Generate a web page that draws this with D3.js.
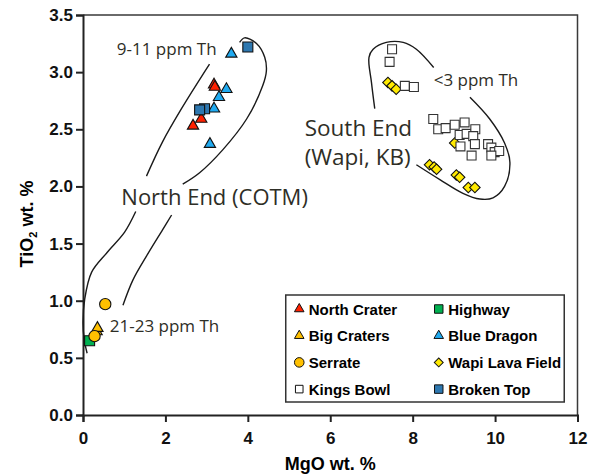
<!DOCTYPE html>
<html lang="en">
<head>
<meta charset="utf-8">
<title>TiO2 vs MgO</title>
<script src="https://d3js.org/d3.v7.min.js"></script>
<style>
  body { margin: 0; background: #fff; }
  svg { display: block; }
  .tick text { font-family: "Liberation Sans", Arial, sans-serif; font-weight: bold; font-size: 17px; fill: #111; }
  .note { font-family: "Open Sans", "Noto Sans", sans-serif; fill: #2e2e26; }
</style>
</head>
<body>
<div id="chart"></div>
<script>
// --- data (MgO wt.%, TiO2 wt.%) ---
var highway = [[0.16, 0.65]];
var bigCraters = [[0.33, 0.73], [0.35, 0.76]];
var serrate = [[0.54, 0.97], [0.28, 0.69]];
var wapi = [[7.40, 2.91], [7.50, 2.88], [7.60, 2.85], [9.02, 2.38],
            [8.41, 2.19], [8.52, 2.17], [8.58, 2.15], [9.06, 2.10], [9.14, 2.08], [9.35, 1.99], [9.51, 1.99]];
var kingsBowl = [[7.50, 3.20], [7.44, 3.09], [7.81, 2.88], [8.03, 2.87],
                 [8.50, 2.59], [8.62, 2.50], [8.80, 2.51], [9.02, 2.54], [9.26, 2.56], [9.14, 2.45],
                 [9.31, 2.46], [9.52, 2.50], [9.16, 2.35], [9.47, 2.44], [9.51, 2.37], [9.43, 2.27],
                 [9.83, 2.37], [9.91, 2.34], [9.99, 2.30], [10.10, 2.31], [9.91, 2.27]];
var northCrater = [[3.18, 2.89], [3.20, 2.87], [2.87, 2.59], [2.67, 2.53]];
var blueDragon = [[3.60, 3.16], [3.48, 2.85], [3.30, 2.78], [3.18, 2.68], [3.08, 2.37]];
var brokenTop = [[4.00, 3.22], [2.95, 2.68], [2.83, 2.67]];

var xTicks = [0, 2, 4, 6, 8, 10, 12];
var yTicks = [0, 0.5, 1, 1.5, 2, 2.5, 3, 3.5];

// series: name, values, shape, fill (draw order = list order)
var series = [
  { name: "Highway", values: highway, shape: "square", fill: "#00b050" },
  { name: "Big Craters", values: bigCraters, shape: "triangle", fill: "#ffc000" },
  { name: "Serrate", values: serrate, shape: "circle", fill: "#ffc000" },
  { name: "Wapi Lava Field", values: wapi, shape: "diamond", fill: "#ffea00" },
  { name: "Kings Bowl", values: kingsBowl, shape: "small", fill: "#ffffff" },
  { name: "North Crater", values: northCrater, shape: "triangle", fill: "#ff2000" },
  { name: "Blue Dragon", values: blueDragon, shape: "triangle", fill: "#20aaf0" },
  { name: "Broken Top", values: brokenTop, shape: "square", fill: "#2e78b0" }
];
var legendOrder = ["North Crater", "Highway", "Big Craters", "Blue Dragon",
                   "Serrate", "Wapi Lava Field", "Kings Bowl", "Broken Top"];

// field outlines, in data units
var northLeftA = [[3.07, 3.07], [2.39, 2.68], [1.93, 2.39], [1.54, 2.09]];
var northLeftB = [[1.28, 1.78], [1.01, 1.60], [0.58, 1.42], [0.21, 1.25], [0.04, 1.01], [0.0, 0.81], [0.03, 0.66], [0.10, 0.54]];
var northRightA = [[3.80, 3.26], [3.92, 3.30], [4.21, 3.25], [4.41, 3.13], [4.45, 3.01], [4.36, 2.88],
                   [3.97, 2.59], [3.39, 2.32], [2.83, 2.12], [2.42, 2.02]];
var northRightB = [[2.15, 1.75], [1.93, 1.62], [1.54, 1.39], [1.21, 1.18], [0.97, 0.96]];
var southA = [[7.08, 2.68], [7.00, 2.91], [6.94, 3.13], [7.04, 3.20], [7.36, 3.26], [7.77, 3.26], [8.09, 3.20], [8.51, 3.04]];
var southB = [[9.39, 2.78], [9.87, 2.59], [10.23, 2.38], [10.36, 2.21], [10.23, 2.00], [9.95, 1.90],
              [9.63, 1.89], [9.22, 1.94], [8.66, 2.06], [8.09, 2.19]];

var notes = [
  { text: "9-11 ppm Th", x: 0.82, y: 3.15, size: 17 },
  { text: "<3 ppm Th", x: 8.51, y: 2.88, size: 17 },
  { text: "South End", x: 5.38, y: 2.44, size: 22.5 },
  { text: "(Wapi, KB)", x: 5.38, y: 2.19, size: 22.5 },
  { text: "North End (COTM)", x: 0.93, y: 1.84, size: 22 },
  { text: "21-23 ppm Th", x: 0.65, y: 0.73, size: 17 }
];

var w = 595, h = 475;
var margin = { top: 15, right: 17.5, bottom: 60, left: 83 };
var width = w - margin.left - margin.right, height = h - margin.top - margin.bottom;

var svg = d3.select("#chart").append("svg")
  .attr("width", w).attr("height", h)
  .append("g")
  .attr("transform", `translate(${margin.left},${margin.top})`);

var x = d3.scaleLinear().domain([0, 12]).range([0, width]);
var y = d3.scaleLinear().domain([0, 3.5]).range([height, 0]);

// frame (top and right)
svg.append("path")
  .attr("d", `M0,0H${width}V${height}`)
  .attr("fill", "none").attr("stroke", "#3a3a3a").attr("stroke-width", 1.5);

var gx = svg.append("g")
  .attr("transform", `translate(0,${height})`)
  .call(d3.axisBottom(x).tickValues(xTicks).tickSize(7).tickPadding(10).tickFormat(d3.format("d")));
var gy = svg.append("g")
  .call(d3.axisLeft(y).tickValues(yTicks).tickSize(7).tickPadding(3).tickFormat(d3.format(".1f")));
[gx, gy].forEach(function (g) {
  g.select(".domain").attr("stroke", "#222").attr("stroke-width", 2);
  g.selectAll(".tick line").attr("stroke", "#222").attr("stroke-width", 2);
});

// axis titles
svg.append("text")
  .attr("x", width / 2).attr("y", height + 55)
  .attr("text-anchor", "middle")
  .style("font-family", "Liberation Sans, Arial, sans-serif").style("font-weight", "bold").style("font-size", "18px")
  .text("MgO wt. %");
var yt = svg.append("text")
  .attr("transform", `translate(${-50},${height / 2 + 9}) rotate(-90)`)
  .attr("text-anchor", "middle")
  .style("font-family", "Liberation Sans, Arial, sans-serif").style("font-weight", "bold").style("font-size", "18px");
yt.append("tspan").text("TiO");
yt.append("tspan").attr("font-size", "11px").attr("dy", 4).text("2");
yt.append("tspan").attr("dy", -4).text(" wt. %");

// outlines
var line = d3.line().x(d => x(d[0])).y(d => y(d[1])).curve(d3.curveCatmullRom.alpha(0.5));
svg.append("g").selectAll("path")
  .data([northLeftA, northLeftB, northRightA, northRightB, southA, southB])
  .join("path")
  .attr("d", line)
  .attr("fill", "none").attr("stroke", "#1a1a1a").attr("stroke-width", 1.4);

// annotation text
svg.append("g").selectAll("text")
  .data(notes)
  .join("text")
  .attr("class", "note")
  .attr("x", d => x(d.x)).attr("y", d => y(d.y))
  .style("font-size", d => d.size + "px")
  .text(d => d.text);

function symbolPath(shape, big) {
  var k = big ? 1 : 0.72;
  if (shape === "triangle") return d3.symbol(d3.symbolTriangle, 55 * k)();
  if (shape === "circle") return d3.symbol(d3.symbolCircle, 100 * k)();
  if (shape === "square") return d3.symbol(d3.symbolSquare, 100 * k)();
  if (shape === "small") return d3.symbol(d3.symbolSquare, 80 * k)();
  if (shape === "diamond") return d3.symbol(d3.symbolSquare, 55 * k)();
}

// points
series.forEach(function (s) {
  svg.append("g").selectAll("path")
    .data(s.values)
    .join("path")
    .attr("d", symbolPath(s.shape, true))
    .attr("transform", d => `translate(${x(d[0])},${y(d[1])})` + (s.shape === "diamond" ? " rotate(45)" : ""))
    .attr("fill", s.fill)
    .attr("stroke", s.shape === "small" ? "#333" : "#111")
    .attr("stroke-width", 1.1);
});

// legend
var lx = x(4.92), ly = y(1.05);
var legend = svg.append("g").attr("transform", `translate(${lx},${ly})`);
legend.append("rect")
  .attr("width", 278.5).attr("height", 107)
  .attr("fill", "#fff").attr("stroke", "#333").attr("stroke-width", 1.5);
var items = legend.selectAll("g.item")
  .data(legendOrder.map(n => series.find(s => s.name === n)))
  .join("g")
  .attr("class", "item")
  .attr("transform", (d, i) => `translate(${13.5 + (i % 2) * 139.5},${14 + Math.floor(i / 2) * 26.7})`);
items.append("path")
  .attr("d", d => symbolPath(d.shape, false))
  .attr("transform", d => d.shape === "diamond" ? "rotate(45)" : "")
  .attr("fill", d => d.fill)
  .attr("stroke", "#111").attr("stroke-width", 1);
items.append("text")
  .attr("x", 9.5).attr("y", 5.5)
  .style("font-family", "Liberation Sans, Arial, sans-serif").style("font-weight", "bold").style("font-size", "15px")
  .text(d => d.name);
</script>
</body>
</html>
